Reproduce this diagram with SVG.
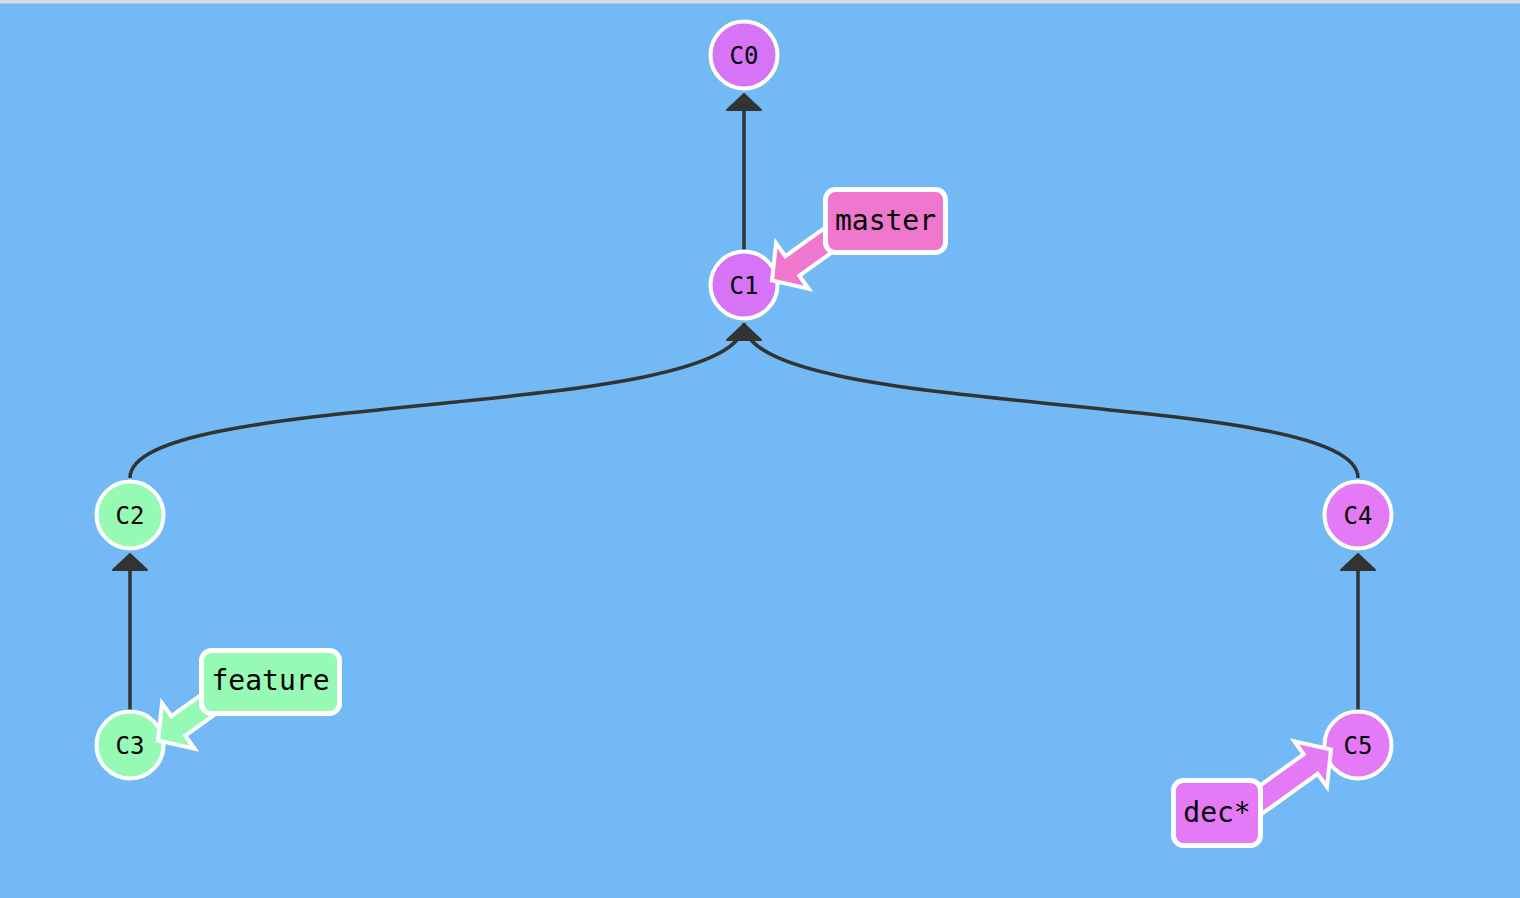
<svg xmlns="http://www.w3.org/2000/svg" width="1520" height="898" viewBox="0 0 1520 898">
<style>
.edge{fill:none;stroke:#333333;stroke-width:3.5}
.head{fill:#333333;stroke:#333333;stroke-width:2;stroke-linejoin:round}
.commit circle{stroke:#ffffff;stroke-width:4}
.commit text{font-family:"DejaVu Sans Mono","Liberation Mono",monospace;font-size:24px;text-anchor:middle;fill:#000000}
.branch rect{stroke:#ffffff;stroke-width:5}
.barrow{stroke:#ffffff;stroke-width:4;stroke-linejoin:miter}
.branch text{font-family:"DejaVu Sans Mono","Liberation Mono",monospace;font-size:28px;text-anchor:middle;fill:#000000}
</style>
<defs>
<path id="barrow" d="M0,0 L25,-28 L25,-12 L110,-12 L110,12 L25,12 L25,28 Z"/>
</defs>
<rect x="0" y="0" width="1520" height="898" fill="#73b9f5"/>
<rect x="0" y="0" width="1520" height="3.5" fill="#dcdcdc"/>
<g id="connectors">
<line class="edge" x1="744" y1="250" x2="744" y2="100"/>
<polygon class="head" points="744,94 727,110 761,110"/>
<path class="edge" d="M130,478 C130,389 744,421 744,323"/>
<path class="edge" d="M1358,478 C1358,389 744,421 744,323"/>
<polygon class="head" points="744,324 727,340 761,340"/>
<line class="edge" x1="130" y1="710" x2="130" y2="560"/>
<polygon class="head" points="130,554 113,570 147,570"/>
<line class="edge" x1="1358" y1="710" x2="1358" y2="560"/>
<polygon class="head" points="1358,554 1341,570 1375,570"/>
</g>
<g id="C0" class="commit"><circle cx="744" cy="55" r="33.5" fill="#d673f7"/><text x="744" y="64">C0</text></g>
<g id="C1" class="commit"><circle cx="744" cy="285" r="33.5" fill="#d673f7"/><text x="744" y="294">C1</text></g>
<g id="C2" class="commit"><circle cx="130" cy="515" r="33.5" fill="#96fab4"/><text x="130" y="524">C2</text></g>
<g id="C3" class="commit"><circle cx="130" cy="745" r="33.5" fill="#96fab4"/><text x="130" y="754">C3</text></g>
<g id="C4" class="commit"><circle cx="1358" cy="515" r="33.5" fill="#e47af5"/><text x="1358" y="524">C4</text></g>
<g id="C5" class="commit"><circle cx="1358" cy="745" r="33.5" fill="#e47af5"/><text x="1358" y="754">C5</text></g>
<g id="master" class="branch">
<use href="#barrow" class="barrow" fill="#ef77ce" transform="translate(772,280.5) rotate(-35.6)"/>
<rect x="825.5" y="189.5" width="120" height="63" rx="10" fill="#ef77ce"/>
<text x="885.5" y="230">master</text>
</g>
<g id="feature" class="branch">
<use href="#barrow" class="barrow" fill="#96fab4" transform="translate(158,740.5) rotate(-35.6)"/>
<rect x="201.5" y="650.5" width="138" height="63" rx="10" fill="#96fab4"/>
<text x="270.5" y="690">feature</text>
</g>
<g id="dec" class="branch">
<use href="#barrow" class="barrow" fill="#e47af5" transform="translate(1331,749.5) rotate(144.4)"/>
<rect x="1173.5" y="780.5" width="87" height="65" rx="10" fill="#e47af5"/>
<text x="1217" y="822">dec*</text>
</g>
</svg>
